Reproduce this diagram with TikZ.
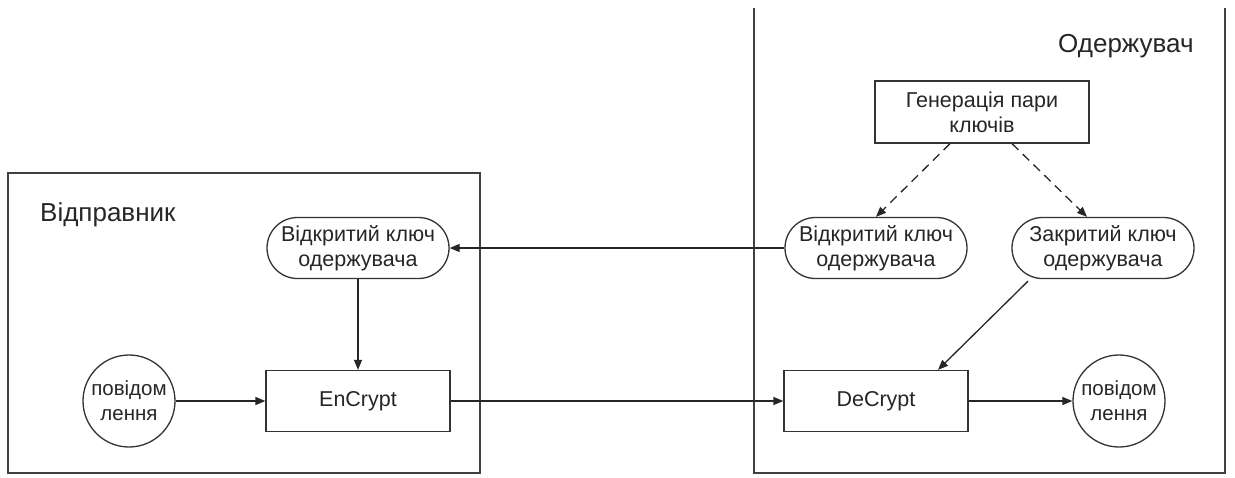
\documentclass[tikz,border=0pt]{standalone}
\usepackage{fontspec}
\setmainfont{Liberation Sans}
\usetikzlibrary{shapes.misc,arrows.meta}
\begin{document}
\begin{tikzpicture}[x=1pt,y=-1pt,
  every node/.style={font=\fontsize{21.5}{25}\selectfont, text=black!85, align=center},
  frame/.style={draw=black!75, line width=1.3pt},
  box/.style={draw=black!80, line width=1.3pt, minimum width=184pt, minimum height=61pt, inner sep=1pt},
  keynode/.style={draw=black!80, line width=1.3pt, rounded rectangle, minimum width=184pt, minimum height=61pt, inner sep=1pt},
  msg/.style={draw=black!80, line width=1.3pt, circle, minimum size=92pt, inner sep=0pt, font=\fontsize{20.5}{25}\selectfont},
  title/.style={font=\fontsize{26}{30}\selectfont, anchor=base west, inner sep=0pt},
  arr/.style={draw=black!85, line width=1.3pt, -{Triangle[length=10pt,width=8pt]}},
  darr/.style={arr, dash pattern=on 9pt off 6pt}
]
\useasboundingbox (0,0) rectangle (1235,477);
\fill[white] (0,0) rectangle (1235,477);
% frames
\draw[frame] (8,473) rectangle (480,173);
\draw[frame] (754,8) -- (754,473) -- (1225,473) -- (1225,8);
\node[title] (lt) at (40,221) {Відправник};
\node[title] (rt) at (1058,52) {Одержувач};
% sender side
\node[keynode] (okL) at (358,248) {Відкритий ключ\\одержувача};
\node[box] (enc) at (358,401) {EnCrypt};
\node[msg] (mL) at (129,401) {повідом\\лення};
% receiver side
\node[box, minimum width=214pt, minimum height=62pt] (gen) at (982,112) {Генерація пари\\ключів};
\node[keynode] (okR) at (876,248) {Відкритий ключ\\одержувача};
\node[keynode] (ck) at (1103,248) {Закритий ключ\\одержувача};
\node[box] (dec) at (876,401) {DeCrypt};
\node[msg] (mR) at (1119,401) {повідом\\лення};
% connectors
\draw[darr] ([xshift=-32pt]gen.south) -- (okR.north);
\draw[darr] ([xshift=30pt]gen.south) -- ([xshift=-16pt]ck.north);
\draw[arr] (okR.west) -- (okL.east);
\draw[arr] (okL.south) -- (enc.north);
\draw[arr] (mL.east) -- (enc.west);
\draw[arr] (enc.east) -- (dec.west);
\draw[arr] (dec.east) -- (mR.west);
\draw[arr] ([xshift=-75pt,yshift=-2pt]ck.south) -- ([xshift=62pt]dec.north);
\end{tikzpicture}
\end{document}
